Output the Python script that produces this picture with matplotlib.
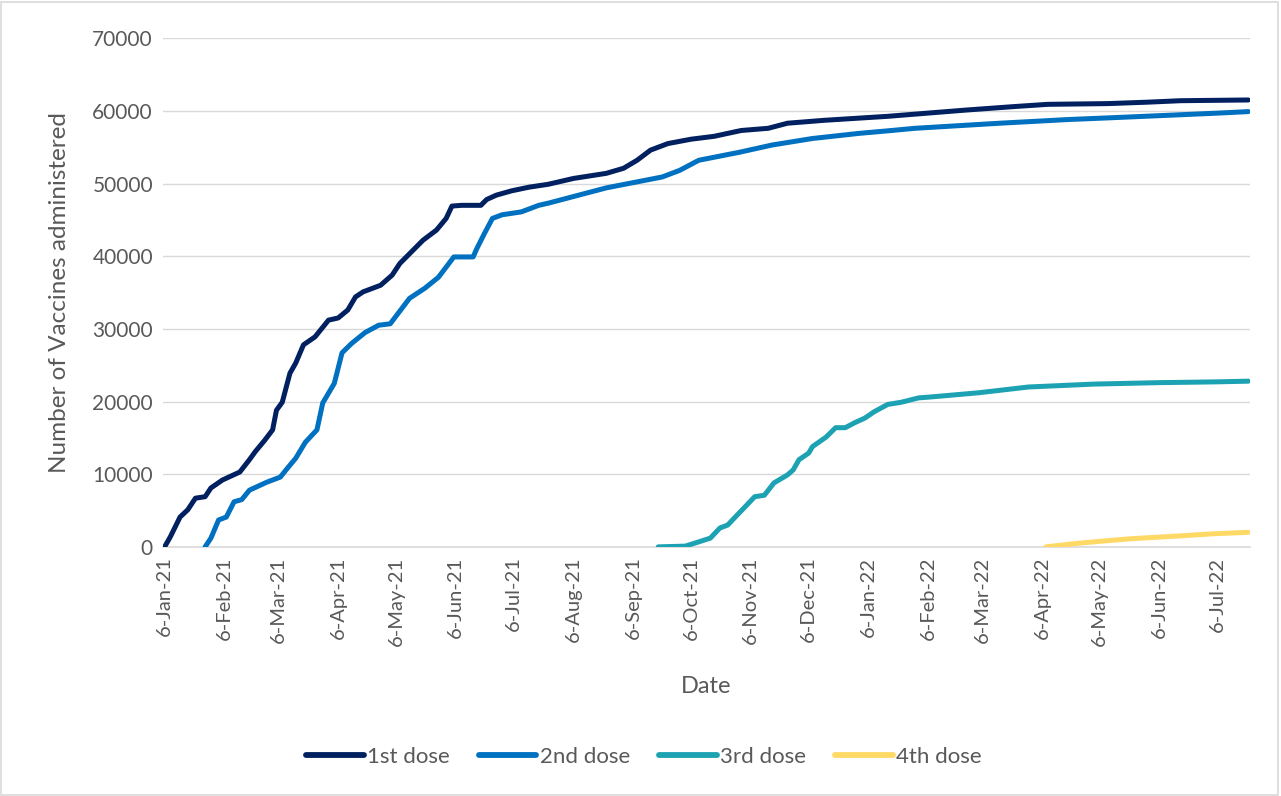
import numpy as np
import pandas as pd
import matplotlib
matplotlib.use('Agg')
import matplotlib.pyplot as plt
from matplotlib.patches import Rectangle

# values
dose1_dates = ['2021-01-06', '2021-01-09', '2021-01-14', '2021-01-18', '2021-01-22', '2021-01-27',
               '2021-01-30', '2021-02-05', '2021-02-14', '2021-02-19', '2021-02-22', '2021-02-27',
               '2021-03-03', '2021-03-05', '2021-03-08', '2021-03-12', '2021-03-15', '2021-03-19',
               '2021-03-25', '2021-04-01', '2021-04-06', '2021-04-11', '2021-04-15', '2021-04-19',
               '2021-04-28', '2021-05-04', '2021-05-08', '2021-05-14', '2021-05-20', '2021-05-27',
               '2021-06-01', '2021-06-04', '2021-06-09', '2021-06-19', '2021-06-22', '2021-06-27',
               '2021-07-05', '2021-07-14', '2021-07-24', '2021-08-06', '2021-08-23', '2021-09-01',
               '2021-09-08', '2021-09-15', '2021-09-24', '2021-10-06', '2021-10-18', '2021-11-01',
               '2021-11-15', '2021-11-25', '2021-12-14', '2022-01-01', '2022-01-16', '2022-02-25',
               '2022-03-23', '2022-04-09', '2022-05-10', '2022-05-31', '2022-06-17', '2022-07-22']
dose1 = [0, 1400, 4100, 5100, 6700, 6900,
         8100, 9200, 10300, 12000, 13100, 14700,
         16100, 18800, 19900, 23900, 25300, 27800,
         28900, 31200, 31500, 32600, 34400, 35100,
         36000, 37400, 39000, 40600, 42200, 43600,
         45200, 46900, 47000, 47000, 47800, 48400,
         49000, 49500, 49900, 50700, 51400, 52100,
         53200, 54600, 55500, 56100, 56500, 57300,
         57600, 58300, 58700, 59000, 59250, 60100,
         60600, 60900, 61000, 61200, 61400, 61500]

dose2_dates = ['2021-01-27', '2021-01-30', '2021-02-03', '2021-02-07', '2021-02-11', '2021-02-15',
               '2021-02-19', '2021-02-28', '2021-03-07', '2021-03-10', '2021-03-15', '2021-03-20',
               '2021-03-26', '2021-03-29', '2021-04-04', '2021-04-08', '2021-04-13', '2021-04-20',
               '2021-04-27', '2021-05-03', '2021-05-13', '2021-05-21', '2021-05-28', '2021-06-01',
               '2021-06-05', '2021-06-15', '2021-06-17', '2021-06-21', '2021-06-25', '2021-06-30',
               '2021-07-10', '2021-07-19', '2021-07-24', '2021-08-23', '2021-09-21', '2021-09-30',
               '2021-10-10', '2021-10-31', '2021-11-17', '2021-12-08', '2022-01-01', '2022-01-18',
               '2022-01-30', '2022-03-15', '2022-04-19', '2022-05-16', '2022-06-11', '2022-07-07',
               '2022-07-22']
dose2 = [0, 1200, 3700, 4100, 6200, 6500,
         7800, 8900, 9600, 10600, 12200, 14400,
         16100, 19800, 22500, 26700, 28000, 29500,
         30500, 30700, 34200, 35600, 37100, 38500,
         39900, 39900, 41100, 43200, 45200, 45700,
         46100, 47000, 47300, 49400, 50900, 51800,
         53200, 54300, 55300, 56200, 56900, 57300,
         57600, 58300, 58800, 59100, 59400, 59700,
         59900]

dose3_dates = ['2021-09-19', '2021-10-03', '2021-10-09', '2021-10-16', '2021-10-21', '2021-10-25',
               '2021-10-30', '2021-11-03', '2021-11-08', '2021-11-13', '2021-11-18', '2021-11-25',
               '2021-11-28', '2021-12-01', '2021-12-06', '2021-12-08', '2021-12-15', '2021-12-20',
               '2021-12-25', '2021-12-30', '2022-01-04', '2022-01-09', '2022-01-16', '2022-01-23',
               '2022-02-01', '2022-02-06', '2022-03-04', '2022-03-30', '2022-05-03', '2022-06-06',
               '2022-07-04', '2022-07-22']
dose3 = [0, 100, 600, 1200, 2600, 3000,
         4400, 5500, 6900, 7100, 8800, 9900,
         10600, 12000, 12900, 13800, 15100, 16400,
         16400, 17100, 17700, 18600, 19600, 19900,
         20500, 20600, 21200, 22000, 22400, 22600,
         22700, 22800]

dose4_dates = ['2022-04-08', '2022-04-25', '2022-05-21', '2022-06-16', '2022-07-04', '2022-07-22']
dose4 = [0, 500, 1100, 1500, 1800, 2000]

labels = ['1st dose', '2nd dose', '3rd dose', '4th dose']
colors = ['#002060', '#0070C0', '#1CA2B2', '#FFD966']

plt.rcParams['font.family'] = ['Lato', 'DejaVu Sans']

fig = plt.figure(figsize=(12.81, 7.96), dpi=100)
ax = fig.add_axes([0.127, 0.313, 0.849, 0.639])

series = [(dose1_dates, dose1), (dose2_dates, dose2), (dose3_dates, dose3), (dose4_dates, dose4)]
for (d, v), lab, c in zip(series, labels, colors):
    ax.plot(pd.to_datetime(d), v, color=c, lw=3.6, label=lab, solid_capstyle='round', zorder=3)

ax.set_ylim(0, 70000)
ax.set_yticks(np.arange(0, 70001, 10000))
ax.set_xlim(pd.Timestamp('2021-01-05'), pd.Timestamp('2022-07-23'))
ticks = pd.date_range('2021-01-01', '2022-07-01', freq='MS') + pd.Timedelta(days=5)
ax.set_xticks(ticks)
ax.set_xticklabels([f"{t.day}-{t.strftime('%b-%y')}" for t in ticks], rotation=90)

ax.grid(axis='y', color='#d9d9d9', lw=1)
ax.set_axisbelow(True)
for s in ['left', 'right', 'top']:
    ax.spines[s].set_visible(False)
ax.spines['bottom'].set_color('#d9d9d9')
ax.spines['bottom'].set_linewidth(1.2)
ax.tick_params(length=0, labelsize=15, colors='#595959', pad=7)
ax.tick_params(axis='x', labelsize=14.5)

ax.set_ylabel('Number of Vaccines administered', fontsize=17.5, color='#595959', labelpad=16)
ax.set_xlabel('Date', fontsize=17, color='#595959', labelpad=22)

leg = fig.legend(loc='center', bbox_to_anchor=(0.5025, 0.049), ncol=4, frameon=False, fontsize=16,
                 labelcolor='#595959', handlelength=2.6, handletextpad=0.15, columnspacing=1.3)
for h in leg.legend_handles:
    h.set_linewidth(4.2)

fig.patches.append(Rectangle((0.001, 0.001), 0.997, 0.997, transform=fig.transFigure,
                             fill=False, edgecolor='#d9d9d9', lw=1.2))

plt.savefig('out.png', dpi=100)
plt.close()
